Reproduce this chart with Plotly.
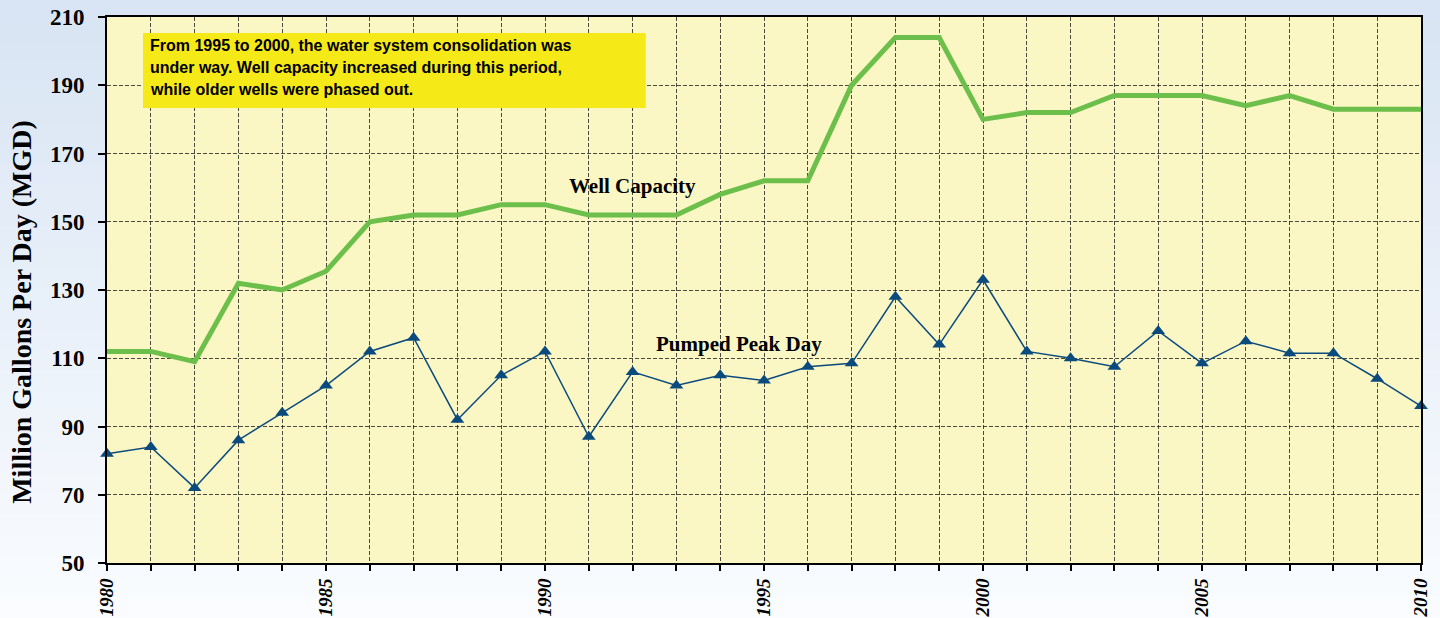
import plotly.graph_objects as go

years = list(range(1980, 2011))
well_capacity = [112, 112, 109, 132, 130, 135.5, 150, 152, 152, 155, 155,
                 152, 152, 152, 158, 162, 162, 190, 204, 204, 180,
                 182, 182, 187, 187, 187, 184, 187, 183, 183, 183]
pumped_peak = [82, 84, 72, 86, 94, 102, 112, 116, 92, 105, 112,
               87, 106, 102, 105, 103.5, 107.5, 108.5, 128, 114, 133,
               112, 110, 107.5, 118, 108.5, 115, 111.5, 111.5, 104, 96]
x_tick_text = [str(y) if y % 5 == 0 else "" for y in years]
y_ticks = [50, 70, 90, 110, 130, 150, 170, 190, 210]
note_lines = ["From 1995 to 2000, the water system consolidation was",
              "under way. Well capacity increased during this period,",
              "while older wells were phased out."]

SERIF = "Liberation Serif, Times New Roman, serif"
SANS = "Liberation Sans, Arial, sans-serif"

fig = go.Figure()
fig.add_trace(go.Scatter(x=years, y=well_capacity, mode="lines",
                         line=dict(color="#6cbf4a", width=5),
                         cliponaxis=False, showlegend=False))
fig.add_trace(go.Scatter(x=years, y=pumped_peak, mode="lines+markers",
                         line=dict(color="#0b4a7d", width=1.5),
                         marker=dict(symbol="triangle-up", size=12, color="#0b4a7d"),
                         cliponaxis=False, showlegend=False))

shapes = []
# background gradient (paper)
n = 30
top_c = (217, 229, 244)
bot_c = (250, 252, 255)
span = 1 + 72 / 546
for i in range(n):
    t = i / (n - 1)
    c = tuple(int(top_c[k] + (bot_c[k] - top_c[k]) * t) for k in range(3))
    y_top = 1 + 17 / 546 - i * span / n + 0.001
    y_bot = y_top - span / n - 0.003
    if i == 0:
        y_top += 0.05
    if i == n - 1:
        y_bot -= 0.05
    shapes.append(dict(type="rect", xref="paper", yref="paper",
                       x0=-0.1, x1=1.1, y0=y_bot, y1=y_top,
                       fillcolor="rgb(%d,%d,%d)" % c, line=dict(width=0), layer="below"))
shapes.append(dict(type="rect", xref="paper", yref="paper", x0=0, x1=1, y0=0, y1=1,
                   fillcolor="#fbf7c4", line=dict(width=0), layer="below"))
# note box
shapes.append(dict(type="rect", xref="paper", yref="paper",
                   x0=0.0274, x1=0.410, y0=0.8333, y1=0.9707,
                   fillcolor="#f6e918", line=dict(width=0), layer="above"))

annotations = []
for line, yp in zip(note_lines, [0.9469, 0.9084, 0.8681]):
    annotations.append(dict(xref="paper", yref="paper", x=0.0312, y=yp,
                            xanchor="left", yanchor="middle", showarrow=False,
                            text="<b>%s</b>" % line,
                            font=dict(family=SANS, size=16, color="black")))
annotations.append(dict(x=1992.0, y=160.5, text="<b>Well Capacity</b>", showarrow=False,
                        font=dict(family=SERIF, size=21, color="black")))
annotations.append(dict(x=1994.43, y=114.2, text="<b>Pumped Peak Day</b>", showarrow=False,
                        font=dict(family=SERIF, size=21, color="black")))
annotations.append(dict(xref="paper", yref="paper", x=-0.0647, y=0.46,
                        text="<b>Million Gallons Per Day (MGD)</b>", textangle=-90,
                        showarrow=False, xanchor="center", yanchor="middle",
                        font=dict(family=SERIF, size=28, color="black")))

fig.update_layout(
    width=1440, height=618,
    margin=dict(l=107, r=19, t=17, b=55),
    paper_bgcolor="#eef3fa",
    plot_bgcolor="rgba(0,0,0,0)",
    shapes=shapes,
    annotations=annotations,
    xaxis=dict(range=[1980, 2010], tickmode="array", tickvals=years, ticktext=x_tick_text,
               tickangle=-90, ticks="outside", ticklen=6, tickwidth=1.5, tickcolor="black",
               tickfont=dict(family=SERIF, size=19, color="black", style="italic", weight="bold"),
               showline=True, linecolor="black", linewidth=2, mirror=True,
               showgrid=True, gridcolor="rgba(30,30,30,0.8)", gridwidth=1, griddash="4px,2px",
               zeroline=False, automargin=False),
    yaxis=dict(range=[50, 210], tickmode="array", tickvals=y_ticks,
               ticks="outside", ticklen=7, tickwidth=1.5, tickcolor="black",
               tickfont=dict(family=SERIF, size=23, color="black", weight="bold"),
               ticklabelstandoff=9,
               showline=True, linecolor="black", linewidth=2, mirror=True,
               showgrid=True, gridcolor="rgba(30,30,30,0.8)", gridwidth=1, griddash="4px,2px",
               zeroline=False, automargin=False),
)

fig.write_html("out.html", config={"displayModeBar": False},
               post_script="document.body.style.margin='0';document.body.style.overflow='hidden';")
